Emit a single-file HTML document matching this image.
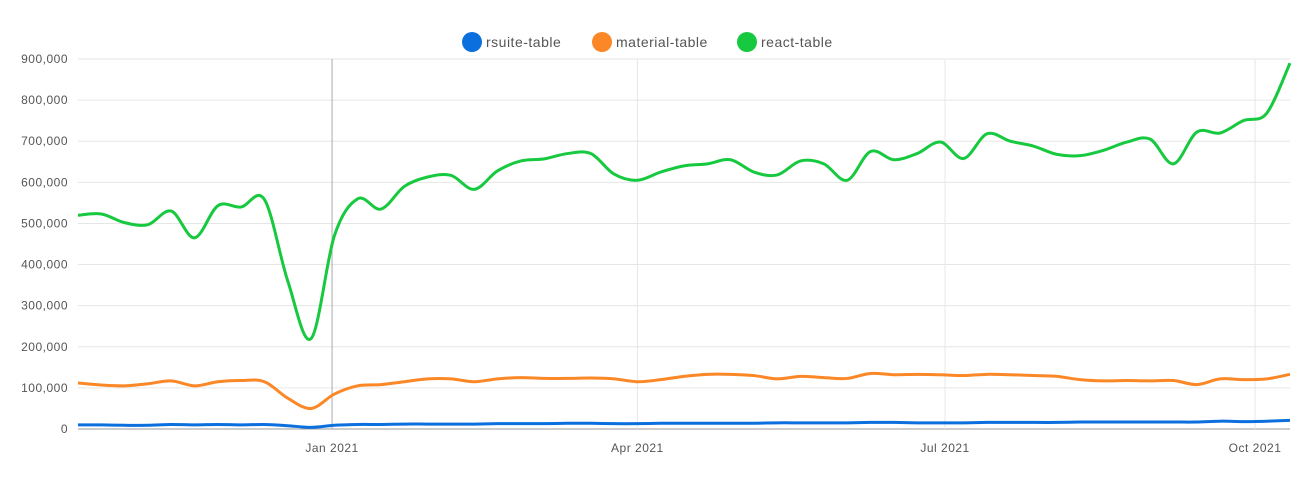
<!DOCTYPE html>
<html><head><meta charset="utf-8"><style>
body{margin:0;background:#fff;font-family:"Liberation Sans",sans-serif}
svg text{font-family:"Liberation Sans",sans-serif;fill:#555;letter-spacing:.5px}
</style></head><body>
<svg id="chart" width="1315" height="485" viewBox="0 0 1315 485" xmlns="http://www.w3.org/2000/svg">
<g id="legend">
 <g><circle cx="472" cy="42" r="10" fill="#0c6fde"/><text x="486" y="47" font-size="14">rsuite-table</text></g>
 <g><circle cx="602" cy="42" r="10" fill="#fb8726"/><text x="616" y="47" font-size="14">material-table</text></g>
 <g><circle cx="747" cy="42" r="10" fill="#16c93f"/><text x="761" y="47" font-size="14">react-table</text></g>
</g>
<g id="grid"></g>
<g id="series"></g>
</svg>
<script>
const yTicks=[0,100000,200000,300000,400000,500000,600000,700000,800000,900000];
const xTickLabels=["Jan 2021","Apr 2021","Jul 2021","Oct 2021"];
const xTickWeeks=[10.9,24,37.2,50.5];
const reactTable=[520,523,502,497,530,465,543,540,558,360,220,470,560,535,590,613,617,583,628,652,657,670,670,620,605,625,640,645,655,625,618,652,645,605,675,655,670,698,658,718,700,688,668,665,678,698,705,645,722,720,750,768,890];
const materialTable=[112,107,105,110,117,105,115,118,115,75,50,85,105,108,115,122,122,115,122,125,123,123,124,122,115,120,128,133,133,130,122,128,125,123,135,132,133,132,130,133,132,130,128,120,117,118,117,118,108,122,120,122,133];
const rsuiteTable=[10,10,9,9,11,10,11,10,11,8,4,9,11,11,12,12,12,12,13,13,13,14,14,13,13,14,14,14,14,14,15,15,15,15,16,16,15,15,15,16,16,16,16,17,17,17,17,17,17,19,18,19,21];
const X0=78,X1=1290,Y0=429,Y1=59,N=reactTable.length;
const xs=i=>X0+i*(X1-X0)/(N-1);
const ys=v=>Y0-v/900000*(Y0-Y1);
const NS="http://www.w3.org/2000/svg";
const grid=document.getElementById('grid'),ser=document.getElementById('series');
function mk(t,a,p){const e=document.createElementNS(NS,t);for(const k in a)e.setAttribute(k,a[k]);p.appendChild(e);return e;}
yTicks.forEach(v=>{
 const l=mk('line',{x1:X0,x2:X1,y1:ys(v),y2:ys(v),stroke:v===0?'#999':'#e6e6e6','stroke-width':1},grid);
 
 
 const t=mk('text',{x:68,y:ys(v)+4,'text-anchor':'end','font-size':12},grid);
 t.textContent=v.toLocaleString('en-US');
 
 
});
xTickLabels.forEach((s,k)=>{
 const x=xs(xTickWeeks[k]);
 const l=mk('line',{x1:x,x2:x,y1:Y1,y2:Y0,stroke:k===0?'#aaa':'#e6e6e6','stroke-width':1},grid);
 
 
 const t=mk('text',{x:x,y:452,'text-anchor':'middle','font-size':12},grid);
 t.textContent=s;
 
 
});
function path(vals){
 const p=vals.map((v,i)=>[xs(i),ys(v*1000)]);
 let d='M'+p[0][0]+','+p[0][1];
 for(let i=0;i<p.length-1;i++){
  const a=p[Math.max(i-1,0)],b=p[i],c=p[i+1],e=p[Math.min(i+2,p.length-1)];
  d+=' C'+(b[0]+(c[0]-a[0])/6)+','+(b[1]+(c[1]-a[1])/6)+' '+(c[0]-(e[0]-b[0])/6)+','+(c[1]-(e[1]-b[1])/6)+' '+c[0]+','+c[1];
 }
 return d;
}
[[rsuiteTable,'#0c6fde','line-rsuite-table'],[materialTable,'#fb8726','line-material-table'],[reactTable,'#16c93f','line-react-table']].forEach(s=>{
 const e=mk('path',{d:path(s[0]),fill:'none',stroke:s[1],'stroke-width':3,'stroke-linejoin':'round'},ser);
 
 
});
</script>
</body></html>
